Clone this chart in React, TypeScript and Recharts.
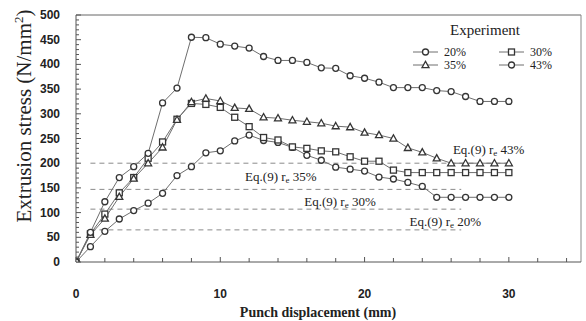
import React from 'react';
import { LineChart, Line, XAxis, YAxis, ReferenceLine, ReferenceDot, Legend } from 'recharts';

// Punch displacement (mm)
const displacement = [0, 1, 2, 3, 4, 5, 6, 7, 8, 9, 10, 11, 12, 13, 14, 15, 16, 17, 18, 19, 20, 21, 22, 23, 24, 25, 26, 27, 28, 29, 30];
// Extrusion stress (N/mm^2) per experiment
const stress20 = [0, 31, 62, 87, 104, 119, 139, 175, 193, 221, 225, 245, 257, 246, 242, 232, 216, 206, 192, 188, 184, 172, 168, 161, 153, 131, 131, 131, 131, 131, 131];
const stress30 = [0, 57, 97, 140, 171, 210, 243, 289, 321, 319, 313, 293, 274, 252, 247, 233, 230, 225, 223, 213, 204, 204, 186, 181, 181, 181, 181, 181, 181, 181, 181];
const stress35 = [0, 55, 88, 132, 169, 200, 232, 288, 324, 331, 326, 312, 310, 293, 291, 287, 284, 281, 275, 273, 262, 257, 250, 231, 222, 210, 200, 200, 200, 200, 200];
const stress43 = [0, 60, 122, 171, 193, 220, 322, 352, 455, 454, 441, 437, 433, 416, 408, 408, 404, 393, 392, 377, 372, 364, 353, 353, 353, 347, 345, 335, 325, 325, 325];

const seriesNames = ['20%', '30%', '35%', '43%'];

// Eq.(9) predictions
const eqNames = ['43%', '35%', '30%', '20%'];
const eqLevels = [200, 147, 107, 65];
const eqStart = [1, 1, 1, 1];
const eqEnd = [30, 26.7, 26.7, 26.7];
const eqLabelX = [28.6, 14.2, 18.3, 25.6];
const eqLabelY = [226, 172, 121, 80];

const xTicks = [0, 2, 4, 6, 8, 10, 12, 14, 16, 18, 20, 22, 24, 26, 28, 30, 32, 34];
const yTicks = [0, 10, 20, 30, 40, 50, 60, 70, 80, 90, 100, 110, 120, 130, 140, 150, 160, 170, 180, 190, 200, 210, 220, 230, 240, 250, 260, 270, 280, 290, 300, 310, 320, 330, 340, 350, 360, 370, 380, 390, 400, 410, 420, 430, 440, 450, 460, 470, 480, 490, 500];

const rows = displacement.map((x, i) => ({
  x,
  s20: stress20[i],
  s30: stress30[i],
  s35: stress35[i],
  s43: stress43[i],
}));

const LINE = '#6e6e6e';
const MARK = '#353535';
const SERIF = '"Liberation Serif", "Times New Roman", serif';
const SANS = '"Liberation Sans", Arial, sans-serif';

const circleShape = (cx: number, cy: number, key?: string) => (
  <circle key={key} cx={cx} cy={cy} r={3} fill="#fff" stroke={MARK} strokeWidth={1.3} />
);
const squareShape = (cx: number, cy: number, key?: string) => (
  <rect key={key} x={cx - 3} y={cy - 3} width={6} height={6} fill="#fff" stroke={MARK} strokeWidth={1.3} />
);
const triangleShape = (cx: number, cy: number, key?: string) => (
  <path key={key} d={`M${cx},${cy - 3.7} L${cx + 3.5},${cy + 2.6} L${cx - 3.5},${cy + 2.6} Z`} fill="#fff" stroke={MARK} strokeWidth={1.3} />
);

const makeDot = (shape: (cx: number, cy: number, key?: string) => React.ReactElement, id: string) => (p: any) => {
  if (p.cx == null || p.cy == null) return <g key={`${id}-${p.index}`} />;
  return shape(p.cx, p.cy, `${id}-${p.index}`);
};

const XTick = (p: any) => {
  const v = p.payload.value;
  const major = v % 10 === 0;
  return (
    <g>
      <line x1={p.x} y1={p.y} x2={p.x} y2={p.y - (major ? 5 : 4)} stroke="#555" strokeWidth={1} />
      {major && (
        <text x={p.x} y={p.y + 32} textAnchor="middle" dominantBaseline="central" fontFamily={SANS} fontWeight="bold" fontSize={12} fill="#222">
          {v}
        </text>
      )}
    </g>
  );
};

const YTick = (p: any) => {
  const v = p.payload.value;
  const major = v % 50 === 0;
  return (
    <g>
      <line x1={p.x} y1={p.y} x2={p.x + (major ? 5 : 3)} y2={p.y} stroke="#555" strokeWidth={1} />
      {major && (
        <text x={p.x - 16} y={p.y} textAnchor="end" dominantBaseline="central" fontFamily={SANS} fontWeight="bold" fontSize={12} fill="#222">
          {v}
        </text>
      )}
    </g>
  );
};

const eqLabel = (name: string) => (p: any) => {
  const vb = p.viewBox || {};
  const cx = (vb.x || 0) + (vb.width || 0) / 2;
  const cy = (vb.y || 0) + (vb.height || 0) / 2;
  return (
    <text x={cx} y={cy + 4} textAnchor="middle" fontFamily={SERIF} fontSize={13} fill="#222">
      Eq.(9) r<tspan fontSize={9} dy={2}>e</tspan>
      <tspan dy={-2}> {name}</tspan>
    </text>
  );
};

const legendShapes = [circleShape, squareShape, triangleShape, circleShape];

const renderLegend = () => {
  const pos = [
    { x: 13, y: 37 },
    { x: 99, y: 37 },
    { x: 13, y: 50 },
    { x: 99, y: 50 },
  ];
  return (
    <svg width={180} height={60} style={{ display: 'block' }}>
      <text x={85} y={20} textAnchor="middle" fontFamily={SERIF} fontSize={15} fill="#222">
        Experiment
      </text>
      {seriesNames.map((n, i) => (
        <g key={n}>
          <line x1={pos[i].x} y1={pos[i].y} x2={pos[i].x + 25} y2={pos[i].y} stroke={LINE} strokeWidth={1} />
          {legendShapes[i](pos[i].x + 12.5, pos[i].y)}
          <text x={pos[i].x + 31} y={pos[i].y + 4} fontFamily={SERIF} fontSize={12} fill="#222">
            {n}
          </text>
        </g>
      ))}
    </svg>
  );
};

export default function App() {
  return (
    <div style={{ position: 'absolute', left: 0, top: 0, width: 586, height: 321, background: '#fff' }}>
      <LineChart width={586} height={321} data={rows} margin={{ top: 15, right: 5, bottom: 0, left: 0 }}>
        <XAxis
          dataKey="x"
          type="number"
          domain={[0, 35]}
          ticks={xTicks}
          interval={0}
          tickSize={0}
          tickMargin={0}
          tickLine={false}
          height={59}
          stroke="#555"
          tick={XTick}
          allowDataOverflow
          label={(p: any) => {
            const vb = p.viewBox || { x: 76, y: 262 };
            return (
              <text x={vb.x + 242} y={vb.y + 55} textAnchor="middle" fontFamily={SERIF} fontWeight="bold" fontSize={14} fill="#222">
                Punch displacement (mm)
              </text>
            );
          }}
        />
        <YAxis
          type="number"
          domain={[0, 500]}
          ticks={yTicks}
          interval={0}
          tickSize={0}
          tickMargin={0}
          tickLine={false}
          width={76}
          stroke="#555"
          tick={YTick}
          allowDataOverflow
          label={(p: any) => {
            const vb = p.viewBox || { x: 0, y: 15 };
            const cx = vb.x + 31;
            const cy = vb.y + 101;
            return (
              <text transform={`translate(${cx},${cy}) rotate(-90)`} textAnchor="middle" fontFamily={SERIF} fontSize={21} fill="#222">
                Extrusion stress (N/mm<tspan fontSize={13} dy={-8}>2</tspan>
                <tspan dy={8}>)</tspan>
              </text>
            );
          }}
        />
        <ReferenceLine y={500} stroke="#666" strokeWidth={1} ifOverflow="visible" />
        <ReferenceLine x={35} stroke="#888" strokeWidth={1} ifOverflow="visible" />
        {eqLevels.map((lv, i) => (
          <ReferenceLine
            key={`eq-${i}`}
            segment={[
              { x: eqStart[i], y: lv },
              { x: eqEnd[i], y: lv },
            ]}
            stroke="#8a8a8a"
            strokeWidth={1}
            strokeDasharray="5 4"
          />
        ))}
        {eqNames.map((n, i) => (
          <ReferenceDot key={`eql-${i}`} x={eqLabelX[i]} y={eqLabelY[i]} r={1} fill="none" stroke="none" label={eqLabel(n)} />
        ))}
        <Line dataKey="s20" type="linear" stroke={LINE} strokeWidth={1} dot={makeDot(circleShape, 'a')} activeDot={false} isAnimationActive={false} />
        <Line dataKey="s30" type="linear" stroke={LINE} strokeWidth={1} dot={makeDot(squareShape, 'b')} activeDot={false} isAnimationActive={false} />
        <Line dataKey="s35" type="linear" stroke={LINE} strokeWidth={1} dot={makeDot(triangleShape, 'c')} activeDot={false} isAnimationActive={false} />
        <Line dataKey="s43" type="linear" stroke={LINE} strokeWidth={1} dot={makeDot(circleShape, 'd')} activeDot={false} isAnimationActive={false} />
        <Legend
          layout="vertical"
          align="center"
          verticalAlign="middle"
          content={renderLegend}
          wrapperStyle={{ position: 'absolute', left: 400, top: 15, width: 180, height: 60 }}
        />
      </LineChart>
    </div>
  );
}
